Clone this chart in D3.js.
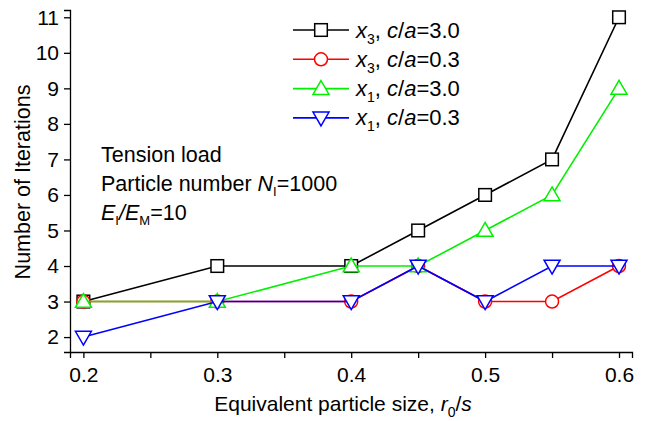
<!DOCTYPE html>
<html><head><meta charset="utf-8">
<script src="https://cdn.jsdelivr.net/npm/d3@7"></script>
<style>body{margin:0;background:#fff}svg{display:block;font-family:"Liberation Sans",Arial,sans-serif}</style>
</head><body><svg id="c" width="649" height="421"></svg>
<script>
const xValues = [0.2, 0.3, 0.4, 0.45, 0.5, 0.55, 0.6];
const x3_ca30 = [3, 4, 4, 5, 6, 7, 11];
const x3_ca03 = [3, 3, 3, 4, 3, 3, 4];
const x1_ca30 = [3, 3, 4, 4, 5, 6, 9];
const x1_ca03 = [2, 3, 3, 4, 3, 4, 4];
const xTicks = [0.2, 0.3, 0.4, 0.5, 0.6];
const xMinorTicks = [0.25, 0.35, 0.45, 0.55];
const yTicks = [2, 3, 4, 5, 6, 7, 8, 9, 10, 11];
const seriesVar = ["3", "3", "1", "1"];
const seriesCa = ["3.0", "0.3", "3.0", "0.3"];
const seriesColors = ["#000000", "#ff0000", "#00f000", "#0000ff"];
const seriesShapes = ["square", "circle", "triangle", "triangleDown"];
const seriesData = [x3_ca30, x3_ca03, x1_ca30, x1_ca03];

const svg = d3.select("#c");
const L = 70, R = 632, T = 10, B = 352;
const x = d3.scaleLinear().domain([0.19, 0.6097]).range([L, R]);
const y = d3.scaleLinear().domain([1.58, 11.205]).range([B, T]);

const fmt = d3.format(".1f");
svg.append("g").attr("transform", `translate(0,${B})`)
  .call(d3.axisBottom(x).tickValues(xTicks).tickFormat(fmt).tickSize(6).tickPadding(9));
svg.append("g").attr("transform", `translate(0,${B})`)
  .call(d3.axisBottom(x).tickValues(xMinorTicks).tickFormat("").tickSize(6))
  .select(".domain").remove();
svg.append("g").attr("transform", `translate(${L},0)`)
  .call(d3.axisLeft(y).tickValues(yTicks).tickSize(6).tickPadding(5));
svg.selectAll(".tick text").attr("font-size", 21).attr("fill", "#000").attr("font-family", "Liberation Sans, Arial, sans-serif");
svg.selectAll(".domain, .tick line").attr("stroke", "#000").attr("stroke-width", 1.3);

// axis titles
const xt = svg.append("text").attr("x", 343).attr("y", 411).attr("text-anchor", "middle").attr("font-size", 21);
xt.append("tspan").text("Equivalent particle size, ");
xt.append("tspan").attr("font-style", "italic").text("r");
xt.append("tspan").attr("font-size", 14).attr("dy", 6).text("0");
xt.append("tspan").attr("dy", -6).text("/");
xt.append("tspan").attr("font-style", "italic").text("s");
svg.append("text").attr("transform", "translate(30,182) rotate(-90)").attr("text-anchor", "middle")
  .attr("font-size", 21.5).text("Number of Iterations");

// marker
function marker(g, shape, cx, cy, color) {
  const s = 6.3;
  if (shape === "square") g.append("rect").attr("x", cx - s).attr("y", cy - s).attr("width", 2 * s).attr("height", 2 * s);
  else if (shape === "circle") g.append("circle").attr("cx", cx).attr("cy", cy).attr("r", 6.5);
  else if (shape === "triangle") g.append("path").attr("d", `M${cx},${cy - 8}L${cx + 8},${cy + 5.8}L${cx - 8},${cy + 5.8}Z`);
  else g.append("path").attr("d", `M${cx},${cy + 8}L${cx + 8},${cy - 5.8}L${cx - 8},${cy - 5.8}Z`);
  g.selectAll("*").attr("fill", "#fff").attr("stroke", color).attr("stroke-width", 1.5);
}

const line = d3.line().x(d => x(d[0])).y(d => y(d[1]));
seriesData.forEach((vals, i) => {
  const pts = xValues.map((v, j) => [v, vals[j]]);
  const g = svg.append("g");
  g.append("path").attr("d", line(pts)).attr("fill", "none").attr("stroke", seriesColors[i]).attr("stroke-width", 1.6);
  pts.forEach(p => marker(g.append("g"), seriesShapes[i], x(p[0]), y(p[1]), seriesColors[i]));
});

// legend
seriesData.forEach((vals, i) => {
  const cy = 30 + i * 29.3;
  const g = svg.append("g");
  g.append("line").attr("x1", 293).attr("x2", 349).attr("y1", cy).attr("y2", cy).attr("stroke", seriesColors[i]).attr("stroke-width", 1.6);
  marker(g.append("g"), seriesShapes[i], 321, cy, seriesColors[i]);
  const t = svg.append("text").attr("x", 356).attr("y", cy + 7.5).attr("font-size", 22);
  t.append("tspan").attr("font-style", "italic").text("x");
  t.append("tspan").attr("font-size", 14).attr("dy", 6).text(seriesVar[i]);
  t.append("tspan").attr("dy", -6).text(", ");
  t.append("tspan").attr("font-style", "italic").text("c");
  t.append("tspan").text("/");
  t.append("tspan").attr("font-style", "italic").text("a");
  t.append("tspan").text("=" + seriesCa[i]);
});

// annotation
svg.append("text").attr("x", 101).attr("y", 162).attr("font-size", 21.5).text("Tension load");
const a2 = svg.append("text").attr("x", 101).attr("y", 191).attr("font-size", 21.5);
a2.append("tspan").text("Particle number ");
a2.append("tspan").attr("font-style", "italic").text("N");
a2.append("tspan").attr("font-size", 13).attr("dy", 5).text("I");
a2.append("tspan").attr("dy", -5).text("=1000");
const a3 = svg.append("text").attr("x", 101).attr("y", 220).attr("font-size", 21.5);
a3.append("tspan").attr("font-style", "italic").text("E");
a3.append("tspan").attr("font-size", 13).attr("dy", 5).text("I");
a3.append("tspan").attr("dy", -5).attr("font-style", "italic").text("/E");
a3.append("tspan").attr("font-size", 13).attr("dy", 5).text("M");
a3.append("tspan").attr("dy", -5).text("=10");
</script></body></html>
